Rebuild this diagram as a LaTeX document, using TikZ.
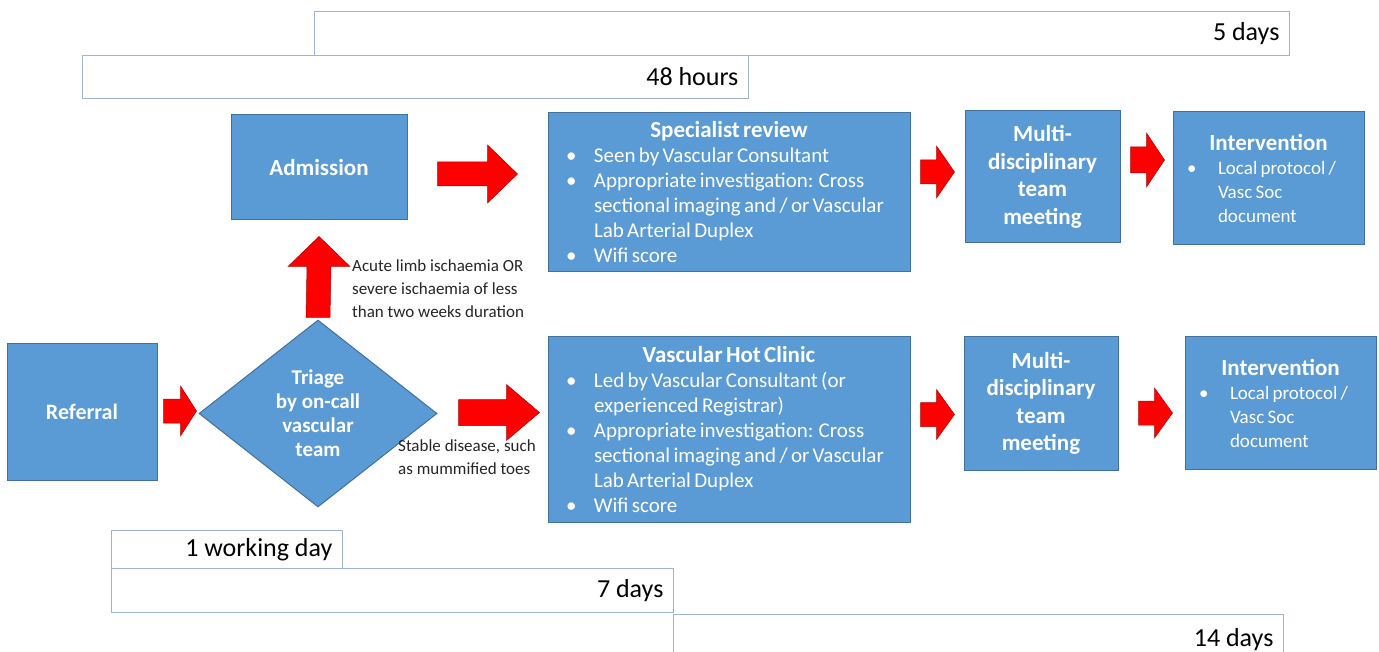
\documentclass[tikz,border=0pt]{standalone}
\usepackage{fontspec}
\setmainfont{Carlito}
\usetikzlibrary{calc,shapes.geometric}
\definecolor{boxblue}{HTML}{5B9BD5}
\definecolor{boxedge}{HTML}{41719C}
\definecolor{tledge}{HTML}{9DB3CF}
\definecolor{arrred}{HTML}{FF0000}
\definecolor{arredge}{HTML}{B00000}
\newcommand{\bul}[2]{\noindent\hangindent=#1pt\hangafter=1\makebox[#1pt][l]{\hspace{#2pt}\textbullet}\ignorespaces}
\newcommand{\harrow}[5]{\fill[blockarrow] ($(#1)+(0,-#3)$) -- ($(#2)+(-#5,-#3)$) -- ($(#2)+(-#5,-#4)$) -- (#2) -- ($(#2)+(-#5,#4)$) -- ($(#2)+(-#5,#3)$) -- ($(#1)+(0,#3)$) -- cycle;}
\newcommand{\varrow}[5]{\fill[blockarrow] ($(#1)+(-#3,0)$) -- ($(#2)+(-#3,#5)$) -- ($(#2)+(-#4,#5)$) -- (#2) -- ($(#2)+(#4,#5)$) -- ($(#2)+(#3,#5)$) -- ($(#1)+(#3,0)$) -- cycle;}
\begin{document}
\begin{tikzpicture}[x=1pt,y=-1pt,
  bluebox/.style={draw=boxedge, line width=1pt, fill=boxblue, text=white, inner sep=0pt, align=flush center},
  bigbox/.style={draw=boxedge, line width=1pt, fill=boxblue, text=white, inner xsep=10pt, inner ysep=0pt},
  titlef/.style={font=\fontsize{23}{28}\selectfont\bfseries},
  tlbox/.style={draw=tledge, line width=0.8pt, fill=white, inner xsep=10pt, inner ysep=0pt, align=flush right, font=\fontsize{26}{28}\selectfont, anchor=north west},
  blockarrow/.style={fill=arrred, draw=arredge, line width=0.5pt},
  lbl/.style={font=\fontsize{17}{23}\selectfont, text=black!85, align=flush left, inner sep=0pt}]
\clip (0,0) rectangle (1379,652);
\fill[white] (0,0) rectangle (1379,652);

% timeline boxes
\node[tlbox, minimum width=975, minimum height=44, text width=955] (d5) at (314,11) {5 days};
\node[tlbox, minimum width=666, minimum height=43, text width=646] (h48) at (82,55) {48 hours};
\node[tlbox, minimum width=231, minimum height=38, text width=211] (wd1) at (111,530) {1 working day};
\node[tlbox, minimum width=562, minimum height=44, text width=542] (d7) at (111,568) {7 days};
\node[tlbox, minimum width=610, minimum height=50, text width=590] (d14) at (673,614) {14 days};

% main boxes
\node[bluebox, titlef, minimum width=176, minimum height=105] (adm) at (319,167.5) {Admission};
\node[bluebox, font=\fontsize{22}{28}\selectfont\bfseries, minimum width=150, minimum height=136] (ref) at (82,412) {Referral};
\node[diamond, draw=boxedge, line width=1pt, fill=boxblue, text=white, inner sep=0pt, minimum width=238, minimum height=187, aspect=1.27, align=flush center, font=\fontsize{21}{24}\selectfont\bfseries] (tri) at (318,413.5) {Triage\\by on-call\\vascular\\team};

\node[bigbox, minimum width=362, minimum height=159, text width=342] (spec) at (729,192.5) {%
  {\centering\fontsize{23}{25}\selectfont\bfseries Specialist review\par}
  {\raggedright\fontsize{21}{25}\selectfont
  \bul{36}{8} Seen by Vascular Consultant\par
  \bul{36}{8} Appropriate investigation: Cross sectional imaging and / or Vascular Lab Arterial Duplex\par
  \bul{36}{8} Wifi score\par}};

\node[bigbox, minimum width=362, minimum height=185, text width=342] (vhc) at (729,429.5) {%
  {\centering\fontsize{23}{25}\selectfont\bfseries Vascular Hot Clinic\par}
  {\raggedright\fontsize{21}{25}\selectfont
  \bul{36}{8} Led by Vascular Consultant (or experienced Registrar)\par
  \bul{36}{8} Appropriate investigation: Cross sectional imaging and / or Vascular Lab Arterial Duplex\par
  \bul{36}{8} Wifi score\par}};

\node[bluebox, minimum width=155, minimum height=132, font=\fontsize{23}{27.5}\selectfont\bfseries] (mdt1) at (1042.5,177) {Multi-\\disciplinary\\team\\meeting};
\node[bluebox, minimum width=154, minimum height=133, font=\fontsize{23}{27.5}\selectfont\bfseries] (mdt2) at (1041,403.5) {Multi-\\disciplinary\\team\\meeting};

\node[bigbox, minimum width=191, minimum height=133, text width=171] (int1) at (1268.5,178.5) {%
  {\centering\fontsize{23}{26}\selectfont\bfseries Intervention\par}
  {\raggedright\fontsize{19}{24}\selectfont
  \bul{35}{4} Local protocol / Vasc Soc document\par}};
\node[bigbox, minimum width=191, minimum height=132, text width=171] (int2) at (1280.5,403) {%
  {\centering\fontsize{23}{26}\selectfont\bfseries Intervention\par}
  {\raggedright\fontsize{19}{24}\selectfont
  \bul{35}{4} Local protocol / Vasc Soc document\par}};

% labels
\node[lbl, anchor=north west] (lacute) at (352,259) {Acute limb ischaemia OR\\severe ischaemia of less\\than two weeks duration};
\node[lbl, anchor=north west] (lstable) at (398,439) {Stable disease, such\\as mummified toes};

% arrow endpoints
\coordinate (a1s) at ($(adm.east)+(30,6.5)$);
\coordinate (a1e) at ($(a1s -| spec.west)+(-30,0)$);
\coordinate (a2s) at ($(spec.east)+(10,-20.5)$);
\coordinate (a2e) at ($(a2s -| mdt1.west)+(-10,0)$);
\coordinate (a3s) at ($(mdt1.east)+(10,-17)$);
\coordinate (a3e) at ($(a3s -| int1.west)+(-8,0)$);
\coordinate (a4s) at ($(ref.east)+(6,-1)$);
\coordinate (a4e) at ($(a4s -| tri.west)+(-2,0)$);
\coordinate (a5s) at ($(tri.east)+(21,-1)$);
\coordinate (a5e) at ($(a5s -| vhc.west)+(-8,0)$);
\coordinate (a6s) at ($(vhc.east)+(10,-15)$);
\coordinate (a6e) at ($(a6s -| mdt2.west)+(-9,0)$);
\coordinate (a7s) at ($(mdt2.east)+(20,9.5)$);
\coordinate (a7e) at ($(a7s -| int2.west)+(-12,0)$);
\coordinate (a8s) at ($(tri.north)+(0,-2)$);
\coordinate (a8e) at ($(adm.south)+(0,16)$);

\harrow{a1s}{a1e}{12}{29}{30}
\harrow{a2s}{a2e}{12}{26}{18}
\harrow{a3s}{a3e}{13}{27}{18}
\harrow{a4s}{a4e}{12}{25}{16}
\harrow{a5s}{a5e}{13}{28}{33}
\harrow{a6s}{a6e}{12}{25}{18}
\harrow{a7s}{a7e}{12}{25}{18}
\varrow{a8s}{a8e}{12}{31}{30}
\end{tikzpicture}
\end{document}
